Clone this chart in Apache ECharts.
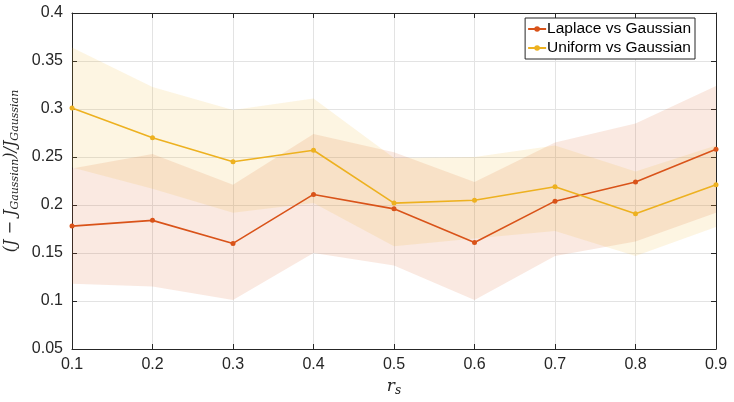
<!DOCTYPE html>
<html>
<head>
<meta charset="utf-8">
<script src="https://cdn.jsdelivr.net/npm/echarts@6/dist/echarts.min.js"></script>
<style>
  html, body { margin: 0; padding: 0; background: #fff; }
  #chart { width: 734px; height: 402px; }
</style>
</head>
<body>
<div id="chart"></div>
<script>
"use strict";
// r_s values on the x axis
var rs = [0.1, 0.2, 0.3, 0.4, 0.5, 0.6, 0.7, 0.8, 0.9];
// Laplace vs Gaussian: mean and band
var laplaceMean  = [0.178, 0.184, 0.160, 0.211, 0.196, 0.161, 0.204, 0.224, 0.258];
var laplaceUpper = [0.238, 0.253, 0.221, 0.274, 0.255, 0.224, 0.265, 0.285, 0.324];
var laplaceLower = [0.118, 0.115, 0.101, 0.150, 0.137, 0.101, 0.147, 0.162, 0.192];
// Uniform vs Gaussian: mean and band
var uniformMean  = [0.301, 0.270, 0.245, 0.257, 0.202, 0.205, 0.219, 0.191, 0.221];
var uniformUpper = [0.364, 0.323, 0.299, 0.311, 0.249, 0.250, 0.262, 0.235, 0.262];
var uniformLower = [0.239, 0.217, 0.192, 0.202, 0.157, 0.165, 0.173, 0.147, 0.177];

var seriesNames = ['Laplace vs Gaussian', 'Uniform vs Gaussian'];
var colLaplace = '#D95319', colUniform = '#EDB120';
var axisCol = '#262626', gridCol = '#e3e3e3';
var font = 'Liberation Sans, Arial, sans-serif';
var serif = 'DejaVu Serif, serif';

function pairs(ys) {
    return rs.map(function (x, i) { return [x, ys[i]]; });
}

// filled band between lower and upper, drawn through the axis scales
function bandSeries(upper, lower, color) {
    return {
        type: 'custom',
        silent: true,
        z: 1,
        data: [0],
        renderItem: function (params, api) {
            var pts = [];
            rs.forEach(function (x, i) { pts.push(api.coord([x, upper[i]])); });
            for (var i = rs.length - 1; i >= 0; i--) pts.push(api.coord([rs[i], lower[i]]));
            return {
                type: 'polygon',
                shape: {points: pts},
                style: {fill: color, opacity: 0.13}
            };
        }
    };
}

function lineSeries(name, ys, color) {
    return {
        name: name,
        type: 'line',
        z: 3,
        data: pairs(ys),
        symbol: 'circle',
        symbolSize: 5,
        lineStyle: {color: color, width: 1.6},
        itemStyle: {color: color},
        emphasis: {disabled: true}
    };
}

var baseAxis = {
    axisLine: {show: true, onZero: false, lineStyle: {color: axisCol, width: 1}},
    axisTick: {show: true, inside: true, length: 5, lineStyle: {color: axisCol}},
    splitLine: {show: false},
    axisLabel: {show: false}
};

function tickFmt(v) {
    return String(+v.toFixed(2));
}

var chart = echarts.init(document.getElementById('chart'), null, {renderer: 'canvas'});
chart.setOption({
    animation: false,
    backgroundColor: '#fff',
    grid: {left: 72, right: 18, top: 13, bottom: 53, containLabel: false, outerBoundsMode: 'none'},
    legend: {
        data: seriesNames,
        orient: 'vertical',
        right: 39,
        top: 18,
        backgroundColor: '#fff',
        borderColor: axisCol,
        borderWidth: 1,
        padding: [3, 4, 3, 2],
        itemGap: 3,
        itemWidth: 18,
        itemHeight: 7,
        textStyle: {fontFamily: font, fontSize: 15.5, color: '#000', padding: [0, 0, 0, -4]}
    },
    xAxis: [{
        type: 'value',
        min: 0.1, max: 0.9, interval: 0.1,
        name: '{v|r}{s|s}',
        nameLocation: 'middle',
        nameGap: 26,
        nameTextStyle: {
            rich: {
                v: {fontFamily: serif, fontStyle: 'italic', fontSize: 17, color: axisCol, lineHeight: 20},
                s: {fontFamily: serif, fontStyle: 'italic', fontSize: 12, color: axisCol, lineHeight: 12, verticalAlign: 'bottom'}
            }
        },
        axisLine: {show: true, onZero: false, lineStyle: {color: axisCol, width: 1}},
        axisTick: {show: true, inside: true, length: 5, lineStyle: {color: axisCol}},
        axisLabel: {fontFamily: font, fontSize: 16, color: axisCol, margin: 8, formatter: tickFmt},
        splitLine: {show: true, lineStyle: {color: gridCol, width: 1}}
    }, Object.assign({type: 'value', position: 'top', min: 0.1, max: 0.9, interval: 0.1}, baseAxis)],
    yAxis: [{
        type: 'value',
        min: 0.05, max: 0.4, interval: 0.05,
        name: '{n|(J − J}{s|Gaussian}{n|)/J}{s|Gaussian}',
        nameLocation: 'middle',
        nameRotate: 90,
        nameGap: 47,
        nameTextStyle: {
            padding: [0, 0, 0, 20],
            rich: {
                n: {fontFamily: serif, fontStyle: 'italic', fontSize: 16, color: axisCol, lineHeight: 20},
                s: {fontFamily: serif, fontStyle: 'italic', fontSize: 11, color: axisCol, lineHeight: 12, verticalAlign: 'bottom'}
            }
        },
        axisLine: {show: true, onZero: false, lineStyle: {color: axisCol, width: 1}},
        axisTick: {show: true, inside: true, length: 5, lineStyle: {color: axisCol}},
        axisLabel: {fontFamily: font, fontSize: 16, color: axisCol, margin: 9, formatter: tickFmt},
        splitLine: {show: true, lineStyle: {color: gridCol, width: 1}}
    }, Object.assign({type: 'value', position: 'right', min: 0.05, max: 0.4, interval: 0.05}, baseAxis)],
    series: [
        bandSeries(laplaceUpper, laplaceLower, colLaplace),
        bandSeries(uniformUpper, uniformLower, colUniform),
        lineSeries(seriesNames[0], laplaceMean, colLaplace),
        lineSeries(seriesNames[1], uniformMean, colUniform)
    ]
});
</script>
</body>
</html>
